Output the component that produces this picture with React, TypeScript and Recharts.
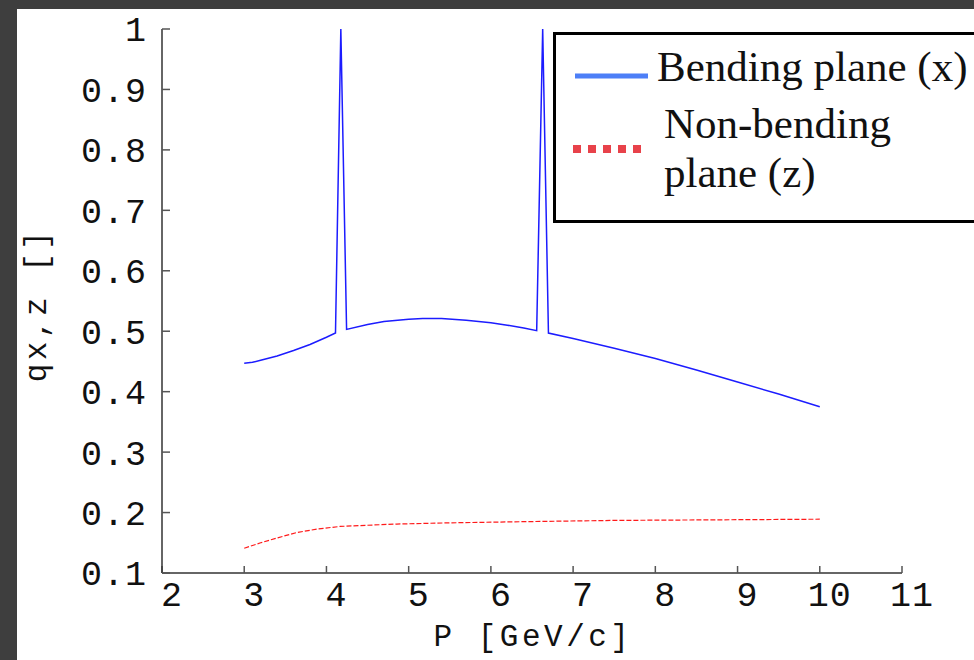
import React from 'react';
import { ComposedChart, Line, XAxis, YAxis, Legend } from 'recharts';

// momentum P [GeV/c] and tune qx for the bending plane
const bendP = [3.0, 3.1, 3.2, 3.4, 3.6, 3.8, 4.0, 4.11, 4.175, 4.245, 4.5, 4.7, 5.0, 5.17, 5.4, 5.7, 6.0, 6.2, 6.4, 6.557, 6.63, 6.7, 7.0, 7.5, 8.0, 8.5, 9.0, 9.5, 10.0];
const bendQ = [0.447, 0.4485, 0.452, 0.459, 0.468, 0.478, 0.49, 0.497, 1.0, 0.503, 0.511, 0.516, 0.52, 0.521, 0.521, 0.518, 0.514, 0.51, 0.5055, 0.501, 1.0, 0.497, 0.488, 0.472, 0.455, 0.436, 0.416, 0.396, 0.375];

// tune qz for the non-bending plane
const nonBendP = [3.0, 3.2, 3.4, 3.64, 3.9, 4.165, 4.5, 4.855, 5.5, 6.44, 7.5, 8.79, 10.0];
const nonBendQ = [0.141, 0.15, 0.158, 0.167, 0.173, 0.177, 0.179, 0.181, 0.183, 0.185, 0.187, 0.188, 0.189];

const xTicks = [2, 3, 4, 5, 6, 7, 8, 9, 10, 11];
const yTicks = [0.1, 0.2, 0.3, 0.4, 0.5, 0.6, 0.7, 0.8, 0.9, 1];

const seriesNames = ['Bending plane (x)', 'Non-bending plane (z)'];

const bendRows = bendP.map((p, i) => ({ p, q: bendQ[i] }));
const nonBendRows = nonBendP.map((p, i) => ({ p, q: nonBendQ[i] }));

const MONO = '"Liberation Mono", "DejaVu Sans Mono", monospace';
const SERIF = '"Liberation Serif", "DejaVu Serif", serif';
const LEGEND_COLORS = ['#4d7ff7', '#e8424a'];

const tickStyle = { fontFamily: MONO, fontSize: 35, fill: '#111', letterSpacing: 1 };
const labelStyle = { fontFamily: MONO, fontSize: 31, fill: '#111', letterSpacing: 3.5 };
const fmtY = (v: number) => (v === 1 ? '1' : v.toFixed(1));

// legend layout (inside the bordered box)
const markerBox = [
  { left: 19, top: 36 },
  { left: 17, top: 109 },
];
const textBox = [
  { left: 101, top: 7 },
  { left: 108, top: 64 },
];

const renderLegend = (props: any) => {
  const { payload } = props;
  return (
    <div
      style={{
        width: 440,
        height: 191,
        boxSizing: 'border-box',
        border: '3px solid #000',
        background: '#fff',
        position: 'relative',
        fontFamily: SERIF,
        fontSize: 43,
        lineHeight: '49px',
        color: '#111',
      }}
    >
      {payload.map((entry: any, i: number) => (
        <React.Fragment key={i}>
          <svg width={74} height={10} style={{ position: 'absolute', ...markerBox[i] }}>
            {i === 0 ? (
              <line x1={0} y1={5} x2={73} y2={5} stroke={LEGEND_COLORS[0]} strokeWidth={5} />
            ) : (
              <line x1={0} y1={5} x2={74} y2={5} stroke={LEGEND_COLORS[1]} strokeWidth={8} strokeDasharray="8 7" />
            )}
          </svg>
          <div style={{ position: 'absolute', ...textBox[i], width: 320, whiteSpace: 'normal' }}>{entry.value}</div>
        </React.Fragment>
      ))}
    </div>
  );
};

export default function App() {
  return (
    <div style={{ position: 'fixed', left: 0, top: 0, width: 974, height: 660, background: '#3e3e3e', overflow: 'hidden' }}>
      <div style={{ position: 'absolute', left: 17, top: 9, right: 0, bottom: 0, background: '#fff' }} />
      <div style={{ position: 'absolute', left: 0, top: 0 }}>
        <ComposedChart width={974} height={660} margin={{ top: 29, right: 72, bottom: 27, left: 12 }}>
          <XAxis
            dataKey="p"
            type="number"
            domain={[2, 11]}
            ticks={xTicks}
            interval={0}
            height={60}
            tickSize={-7}
            tickMargin={15}
            tick={{ ...tickStyle, dx: 10 }}
            stroke="#333"
            strokeWidth={1.5}
            tickLine={{ stroke: '#555', strokeWidth: 1.5 }}
            label={{
              content: (lp: any) => {
                const vb = lp.viewBox;
                return (
                  <text x={vb.x + vb.width / 2 + 1} y={646} textAnchor="middle" style={labelStyle}>
                    P [GeV/c]
                  </text>
                );
              },
            }}
          />
          <XAxis
            xAxisId="top"
            orientation="top"
            dataKey="p"
            type="number"
            domain={[2, 11]}
            ticks={xTicks}
            interval={0}
            height={0}
            tickSize={-8}
            tickFormatter={() => ''}
            stroke="#333"
            strokeWidth={1.5}
            tickLine={{ stroke: '#555', strokeWidth: 1.5 }}
          />
          <YAxis
            type="number"
            domain={[0.1, 1]}
            ticks={yTicks}
            interval={0}
            width={150}
            tickSize={-8}
            tickMargin={23}
            tickFormatter={fmtY}
            tick={tickStyle}
            stroke="#333"
            strokeWidth={1.5}
            tickLine={{ stroke: '#555', strokeWidth: 1.5 }}
            label={{
              content: (lp: any) => {
                const vb = lp.viewBox;
                const cx = vb.x + 25;
                const cy = vb.y + vb.height / 2 + 4;
                return (
                  <text
                    x={cx}
                    y={cy}
                    transform={`rotate(-90 ${cx} ${cy})`}
                    textAnchor="middle"
                    dominantBaseline="central"
                    style={labelStyle}
                  >
                    qx,z []
                  </text>
                );
              },
            }}
          />
          <YAxis
            yAxisId="right"
            orientation="right"
            type="number"
            domain={[0.1, 1]}
            ticks={yTicks}
            interval={0}
            width={0}
            tickSize={-8}
            tickFormatter={() => ''}
            stroke="#333"
            strokeWidth={1.5}
            tickLine={{ stroke: '#555', strokeWidth: 1.5 }}
          />
          <Line
            data={bendRows}
            dataKey="q"
            name={seriesNames[0]}
            type="linear"
            stroke="#1c1cff"
            strokeWidth={1.5}
            dot={false}
            activeDot={false}
            isAnimationActive={false}
          />
          <Line
            data={nonBendRows}
            dataKey="q"
            name={seriesNames[1]}
            type="linear"
            stroke="#ff1a1a"
            strokeWidth={1.2}
            strokeDasharray="5 2"
            dot={false}
            activeDot={false}
            isAnimationActive={false}
          />
          <Legend
            layout="vertical"
            align="center"
            verticalAlign="middle"
            content={renderLegend}
            wrapperStyle={{ left: 553, top: 32, width: 440, height: 191 }}
          />
        </ComposedChart>
      </div>
    </div>
  );
}
